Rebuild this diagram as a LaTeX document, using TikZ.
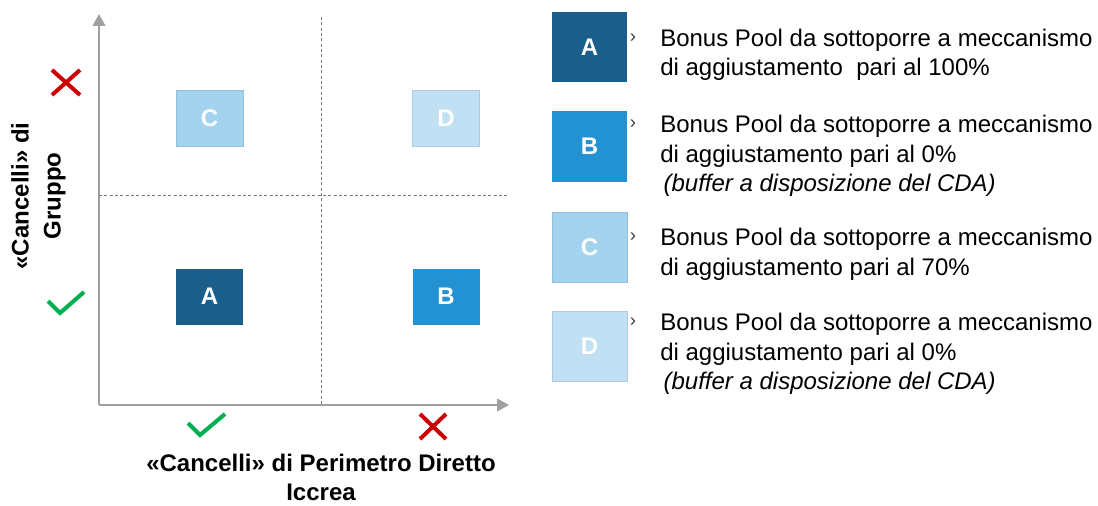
\documentclass[tikz,border=0pt]{standalone}
\usepackage{fontspec}
\setmainfont{Liberation Sans}
\usetikzlibrary{arrows.meta}
\definecolor{cA}{RGB}{27,94,138}
\definecolor{cB}{RGB}{35,146,211}
\definecolor{cC}{RGB}{163,211,239}
\definecolor{cD}{RGB}{193,224,244}
\definecolor{cCb}{RGB}{150,192,218}
\definecolor{cDb}{RGB}{172,204,224}
\definecolor{axisgray}{RGB}{160,160,160}
\definecolor{dashgray}{RGB}{120,120,120}
\definecolor{xred}{RGB}{204,0,0}
\definecolor{okgreen}{RGB}{0,176,80}
\definecolor{chev}{RGB}{60,60,60}
\begin{document}
\begin{tikzpicture}[x=0.75pt,y=-0.75pt,
  axisline/.style={draw=axisgray,line width=1.6pt,-{Triangle[width=9.5pt,length=9pt]}},
  divider/.style={draw=dashgray,line width=0.75pt,dash pattern=on 2.2pt off 1.8pt},
  qbox/.style={minimum width=50.25pt,minimum height=42pt,inner sep=0pt,text=white,
    font=\fontsize{18}{22}\selectfont\bfseries},
  lbox/.style={minimum width=56.25pt,minimum height=52.5pt,inner sep=0pt,text=white,
    font=\fontsize{18}{22}\selectfont\bfseries},
  legtext/.style={anchor=base west,inner sep=0pt,align=left,font=\fontsize{18}{22}\selectfont},
  chevron/.style={inner sep=0pt,text=chev,font=\fontsize{14}{16}\selectfont},
  axislabel/.style={inner sep=0pt,align=center,font=\fontsize{18}{22}\selectfont\bfseries},
  nomark/.style={draw=xred,line width=3pt},
  okmark/.style={draw=okgreen,line width=3pt,line join=miter}
]
\useasboundingbox (0,0) rectangle (1098,506);

% axes
\coordinate (O) at (99,405);
\coordinate (ytip) at (99,14);
\coordinate (xtip) at (509,405);
\draw[axisline] (O) -- (ytip);
\draw[axisline] (O) -- (xtip);

% dividers
\coordinate (vtop) at (321,17);
\coordinate (vbot) at (321,405);
\coordinate (hl) at (99,195);
\coordinate (hr) at (507,195);
\draw[divider] (vtop) -- (vbot);
\draw[divider] (hl) -- (hr);

% quadrant boxes
\node[qbox,fill=cC,draw=cCb,line width=0.6pt] (qC) at (209.5,118) {C};
\node[qbox,fill=cD,draw=cDb,line width=0.6pt] (qD) at (446,118) {D};
\node[qbox,fill=cA] (qA) at (209.5,296.5) {A};
\node[qbox,fill=cB] (qB) at (446,296.5) {B};

% marks
\coordinate (x1a) at (52,70); \coordinate (x1b) at (80,95);
\coordinate (x1c) at (52,95); \coordinate (x1d) at (80,70);
\draw[nomark] (x1a) -- (x1b); \draw[nomark] (x1c) -- (x1d);
\coordinate (x2a) at (420,414); \coordinate (x2b) at (446,439);
\coordinate (x2c) at (420,439); \coordinate (x2d) at (446,414);
\draw[nomark] (x2a) -- (x2b); \draw[nomark] (x2c) -- (x2d);
\coordinate (c1a) at (48,301); \coordinate (c1b) at (60,313); \coordinate (c1c) at (84,292);
\draw[okmark] (c1a) -- (c1b) -- (c1c);
\coordinate (c2a) at (188,423); \coordinate (c2b) at (200,435); \coordinate (c2c) at (225,414);
\draw[okmark] (c2a) -- (c2b) -- (c2c);

% axis labels
\node[axislabel] (xlab) at (321,477.5) {«Cancelli» di Perimetro Diretto\\Iccrea};
\node[axislabel,rotate=90] (ylab) at (38.5,196) {«Cancelli» di\\[2pt]Gruppo};

% legend
\node[lbox,fill=cA] (lA) at (589.5,47) {A};
\node[lbox,fill=cB] (lB) at (589.5,146.5) {B};
\node[lbox,fill=cC,draw=cCb,line width=0.6pt] (lC) at (589.5,247) {C};
\node[lbox,fill=cD,draw=cDb,line width=0.6pt] (lD) at (589.5,346.5) {D};

\node[chevron] (chA) at (633,38) {›};
\node[chevron] (chB) at (633,124) {›};
\node[chevron] (chC) at (633,237) {›};
\node[chevron] (chD) at (633,322) {›};

\node[legtext] (tA) at (660,75.5) {Bonus Pool da sottoporre a meccanismo\\di aggiustamento \ pari al 100\%};
\node[legtext] (tB) at (660,191.5) {Bonus Pool da sottoporre a meccanismo\\di aggiustamento pari al 0\%\\\hspace{2.5pt}\textit{(buffer a disposizione del CDA)}};
\node[legtext] (tC) at (660,275) {Bonus Pool da sottoporre a meccanismo\\di aggiustamento pari al 70\%};
\node[legtext] (tD) at (660,389.5) {Bonus Pool da sottoporre a meccanismo\\di aggiustamento pari al 0\%\\\hspace{2.5pt}\textit{(buffer a disposizione del CDA)}};
\end{tikzpicture}
\end{document}
